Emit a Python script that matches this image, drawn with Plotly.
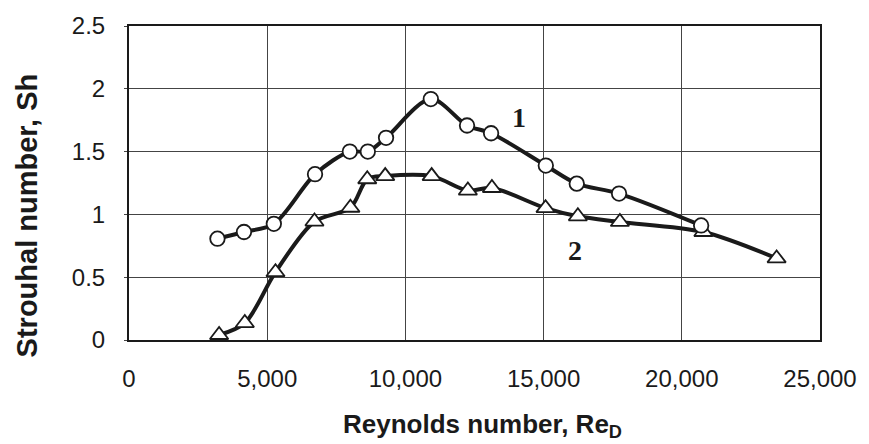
import plotly.graph_objects as go

# Series 1 (circles)
re_1 = [3200, 4160, 5240, 6730, 7990, 8640, 9300, 10920, 12230, 13100, 15080, 16200, 17730, 20700]
sh_1 = [0.807, 0.86, 0.925, 1.32, 1.50, 1.50, 1.61, 1.918, 1.708, 1.646, 1.389, 1.245, 1.166, 0.912]

# Series 2 (triangles)
re_2 = [3260, 4190, 5300, 6710, 8010, 8620, 9270, 10950, 12260, 13130, 15070, 16240, 17760, 20780, 23430]
sh_2 = [0.04, 0.135, 0.54, 0.943, 1.053, 1.28, 1.305, 1.305, 1.19, 1.21, 1.05, 0.985, 0.94, 0.86, 0.65]

x_ticks = [0, 5000, 10000, 15000, 20000, 25000]
y_ticks = [0, 0.5, 1, 1.5, 2, 2.5]

curve_labels = ["1", "2"]
label_pos_x = [14100, 16150]
label_pos_y = [1.77, 0.71]

fig = go.Figure()

fig.add_trace(go.Scatter(
    x=re_2, y=sh_2, mode="lines+markers",
    line=dict(color="#1a1a1a", width=4, shape="spline", smoothing=0.9),
    marker=dict(symbol="triangle-up", size=16, color="white",
                line=dict(color="#1a1a1a", width=1.8)),
    showlegend=False))

fig.add_trace(go.Scatter(
    x=re_1, y=sh_1, mode="lines+markers",
    line=dict(color="#1a1a1a", width=4, shape="spline", smoothing=0.9),
    marker=dict(symbol="circle", size=14.5, color="white",
                line=dict(color="#1a1a1a", width=1.8)),
    showlegend=False))

for t, xx, yy in zip(curve_labels, label_pos_x, label_pos_y):
    fig.add_annotation(x=xx, y=yy, text=t, showarrow=False,
                       font=dict(family="Liberation Serif", size=28, color="#1a1a1a", weight="bold"))

fig.add_annotation(xref="paper", yref="paper", x=0.512, y=-0.272,
                   text="<b>Reynolds number, Re<sub>D</sub></b>", showarrow=False,
                   yanchor="middle", xanchor="center",
                   font=dict(family="Liberation Sans", size=26, color="#1a1a1a"))
fig.add_annotation(xref="paper", yref="paper", x=-0.148, y=0.396,
                   text="<b>Strouhal number, Sh</b>", showarrow=False, textangle=-90,
                   yanchor="middle", xanchor="center",
                   font=dict(family="Liberation Sans", size=29, color="#1a1a1a"))

fig.update_xaxes(range=[0, 25000], tickvals=x_ticks, tickformat=",d",
                 showgrid=True, gridcolor="#444444", gridwidth=1,
                 showline=True, linecolor="#1a1a1a", linewidth=2, mirror=True,
                 ticks="", zeroline=False, ticklabelstandoff=16,
                 tickfont=dict(family="Liberation Sans", size=24, color="#1a1a1a"))
fig.update_yaxes(range=[0, 2.5], tickvals=y_ticks,
                 showgrid=True, gridcolor="#444444", gridwidth=1,
                 showline=True, linecolor="#1a1a1a", linewidth=2, mirror=True,
                 ticks="outside", ticklen=3, tickcolor="#444444", zeroline=False,
                 ticklabelstandoff=14,
                 tickfont=dict(family="Liberation Sans", size=24, color="#1a1a1a"))

fig.update_layout(width=869, height=444,
                  margin=dict(l=129, r=43, t=22, b=104),
                  plot_bgcolor="white", paper_bgcolor="white")

fig.write_html("out.html")
